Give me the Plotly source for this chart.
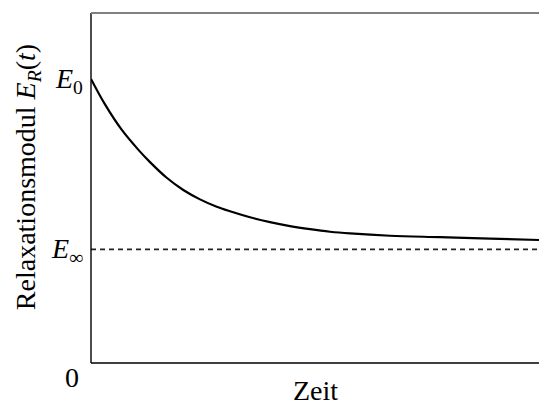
import plotly.graph_objects as go

# Relaxation modulus over time (normalised: E0 = 1)
t_vals = [0.0, 0.306, 0.676, 1.049, 1.317, 1.690, 2.060, 2.433, 2.806, 3.103,
          3.549, 3.996, 4.442, 4.888, 5.335, 5.781, 6.674, 7.790, 8.906, 10.0]
e_vals = [1.0, 0.912, 0.823, 0.752, 0.707, 0.652, 0.609, 0.576, 0.550, 0.534,
          0.513, 0.496, 0.482, 0.471, 0.462, 0.456, 0.448, 0.443, 0.438, 0.433]
E0 = 1.0
E_inf = 0.4
t_max = 10.0
y_max = 1.232

serif = "Liberation Serif, Times New Roman, serif"
fs = 28

fig = go.Figure()

# long-term modulus (dashed asymptote)
fig.add_trace(go.Scatter(
    x=[0, t_max], y=[E_inf, E_inf], mode="lines",
    line=dict(color="#222222", width=1.6, dash="5px,4px"),
    hoverinfo="skip", showlegend=False,
))

# relaxation curve
fig.add_trace(go.Scatter(
    x=t_vals, y=e_vals, mode="lines",
    line=dict(color="black", width=2.2, shape="spline", smoothing=1.0),
    showlegend=False,
))

fig.update_layout(
    width=539, height=404,
    margin=dict(l=91, r=0, t=13, b=41),
    paper_bgcolor="white", plot_bgcolor="white",
    xaxis=dict(range=[0, t_max], showgrid=False, zeroline=False, showticklabels=False,
               ticks="", showline=False),
    yaxis=dict(range=[0, y_max], showgrid=False, zeroline=False, showticklabels=False,
               ticks="", showline=False),
    font=dict(family=serif, size=fs, color="black"),
    shapes=[
        dict(type="line", xref="paper", yref="paper", x0=0, x1=0, y0=0, y1=1,
             line=dict(color="black", width=1.4)),
        dict(type="line", xref="paper", yref="paper", x0=0, x1=1, y0=0, y1=0,
             line=dict(color="black", width=1.4)),
        dict(type="line", xref="paper", yref="paper", x0=0, x1=1, y0=1, y1=1,
             line=dict(color="#808080", width=2)),
    ],
    annotations=[
        dict(text="<i>E</i><sub>0</sub>", xref="paper", yref="y", x=0, y=E0,
             xanchor="right", yanchor="middle", xshift=-6, yshift=-2, showarrow=False,
             font=dict(family=serif, size=fs)),
        dict(text="<i>E</i><sub>∞</sub>", xref="paper", yref="y", x=0, y=E_inf,
             xanchor="right", yanchor="middle", xshift=-6, yshift=-1, showarrow=False,
             font=dict(family=serif, size=fs)),
        dict(text="0", xref="paper", yref="y", x=0, y=0,
             xanchor="right", yanchor="middle", xshift=-10, yshift=-14, showarrow=False,
             font=dict(family=serif, size=fs)),
        dict(text="Zeit", xref="paper", yref="paper", x=0.5, y=0,
             xanchor="center", yanchor="top", yshift=-10, showarrow=False,
             font=dict(family=serif, size=fs)),
        dict(text="Relaxationsmodul <i>E<sub>R</sub></i>(<i>t</i>)", xref="paper", yref="paper",
             x=0, y=0.531, xanchor="center", yanchor="middle", xshift=-64,
             textangle=-90, showarrow=False, font=dict(family=serif, size=fs)),
    ],
)

fig.write_html("out.html")
